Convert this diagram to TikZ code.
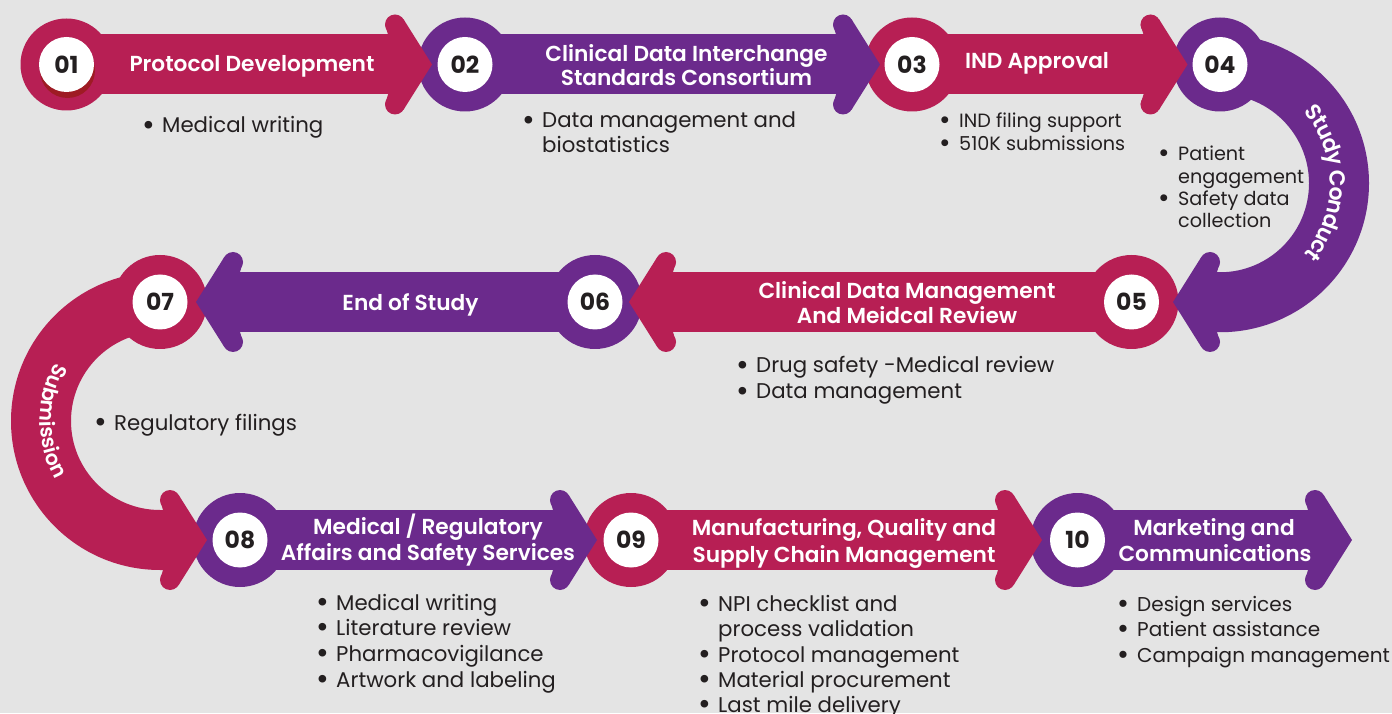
\documentclass[tikz,border=0pt]{standalone}
\usepackage{fontspec}
\setmainfont{Poppins}[BoldFont={Poppins SemiBold}]
\newfontfamily\numfont{Poppins Bold}
\usetikzlibrary{decorations.text}
\definecolor{bg}{HTML}{E4E4E4}
\definecolor{mag}{HTML}{B71F54}
\definecolor{pur}{HTML}{6B2A8C}
\definecolor{shd}{HTML}{9E1B24}
\definecolor{ink}{HTML}{231F20}
\newcommand\ahead[4]{%
  \begin{scope}[shift={(#1,#2)},xscale=#4]
    \fill[#3] (-44,30) -- (-47,40) -- (-28.5,45.3) -- (0,0) -- (-28.5,-45.3) -- (-47,-40) -- (-44,-30) -- cycle;
    \fill[#3] (-37,40) circle[radius=10] (-37,-40) circle[radius=10];
  \end{scope}}
\newcommand\bul{\makebox[16pt][l]{\hspace{-4pt}\raisebox{-0.1em}{\scalebox{1.45}{\textbullet}}}}
\tikzset{
  title/.style={text=white, font=\bfseries\fontsize{21.7}{25}\selectfont, anchor=base, inner sep=0pt},
  item/.style={text=ink, font=\fontsize{21.3}{25}\selectfont, anchor=base west, inner sep=0pt},
  smallitem/.style={item, font=\fontsize{19.2}{22}\selectfont},
  lastitem/.style={item, font=\fontsize{20}{25}\selectfont},
  num/.style={circle, fill=white, minimum size=55pt, inner sep=0pt, text=ink, font=\numfont\fontsize{23.5}{23.5}\selectfont},
}
\begin{document}
\begin{tikzpicture}[x=1pt,y=1pt]
\fill[bg] (0,0) rectangle (1392,713);
\useasboundingbox (0,0) rectangle (1392,713);
% rings
\fill[mag] (66.5,648.5) circle[radius=46];
\fill[pur] (465,648.5) circle[radius=47];
\fill[mag] (912,648.5) circle[radius=47];
\fill[pur] (1220,648.5) circle[radius=47];
\fill[mag] (1131.5,411) circle[radius=47];
\fill[pur] (595,411) circle[radius=47];
\fill[mag] (160,411) circle[radius=47];
\fill[pur] (240,173) circle[radius=47];
\fill[mag] (631,173) circle[radius=47];
\fill[pur] (1077.5,173) circle[radius=47];
% row 1 arrows
\fill[mag] (66.5,618.5) rectangle (392,678.5); \ahead{432}{648.5}{mag}{1}
\fill[pur] (465,618.5) rectangle (840,678.5); \ahead{880}{648.5}{pur}{1}
\fill[mag] (912,618.5) rectangle (1147.5,678.5); \ahead{1187.5}{648.5}{mag}{1}
% study conduct arc
\fill[pur] (1220,678.75) arc[start angle=90,end angle=-90,radius=149] -- (1214,380.75) -- (1214,440.75) -- (1220,440.75) arc[start angle=-90,end angle=90,radius=89] -- cycle;
\ahead{1173}{411}{pur}{-1}
% row 2 arrows
\fill[mag] (1131.5,381) rectangle (669,441); \ahead{629}{411}{mag}{-1}
\fill[pur] (595,381) rectangle (236,441); \ahead{196}{411}{pur}{-1}
% submission arc
\fill[mag] (160,441) arc[start angle=90,end angle=270,radius=149] -- (167,143) -- (167,203) -- (160,203) arc[start angle=270,end angle=90,radius=89] -- cycle;
\ahead{207}{173}{mag}{1}
% row 3 arrows
\fill[pur] (240,143) rectangle (557,203); \ahead{597}{173}{pur}{1}
\fill[mag] (631,143) rectangle (1002,203); \ahead{1042}{173}{mag}{1}
\fill[pur] (1077.5,143) rectangle (1312,203); \ahead{1352}{173}{pur}{1}
% number circles
\fill[shd] (67.5,642.5) circle[radius=27.5];
\node[num] (n01) at (66.5,648.5) {01};
\node[num] (n02) at (465,648.5) {02};
\node[num] (n03) at (912,648.5) {03};
\node[num] (n04) at (1220,648.5) {04};
\node[num] (n05) at (1131.5,411) {05};
\node[num] (n06) at (595,411) {06};
\node[num] (n07) at (160,411) {07};
\node[num] (n08) at (240,173) {08};
\node[num] (n09) at (631,173) {09};
\node[num] (n10) at (1077.5,173) {10};
% titles
\node[title] (t01) at (252,641) {Protocol Development};
\node[title] (t02a) at (686.5,651) {Clinical Data Interchange};
\node[title] (t02b) at (686.5,627) {Standards Consortium};
\node[title] (t03) at (1037,644) {IND Approval};
\node[title] (t05a) at (907,414) {Clinical Data Management};
\node[title] (t05b) at (907,389) {And Meidcal Review};
\node[title] (t06) at (410.5,402) {End of Study};
\node[title] (t08a) at (428,179) {Medical / Regulatory};
\node[title] (t08b) at (428,153) {Affairs and Safety Services};
\node[title] (t09a) at (844,178) {Manufacturing, Quality and};
\node[title] (t09b) at (844,151) {Supply Chain Management};
\node[title] (t10a) at (1214,178) {Marketing and};
\node[title] (t10b) at (1215,152) {Communications};
% arc labels
\path[decorate, decoration={text along path, text={|\bfseries\fontsize{22}{22}\selectfont|Study Conduct}, text align=center, text color=white, raise=-9pt}] (1220,529.75) ++(45:119) arc[start angle=45, end angle=-45, radius=119];
\path[decorate, decoration={text along path, text={|\bfseries\fontsize{20.5}{20.5}\selectfont|Submission}, text align=center, text color=white, raise=-1pt}] (160,292) ++(150:119) arc[start angle=150, end angle=210, radius=119];
% bullet lists
\node[item] (b01) at (146,580) {\bul Medical writing};
\node[item] (b02a) at (526,585) {\bul Data management and};
\node[item] (b02b) at (542,560) {biostatistics};
\node[smallitem] (b03a) at (943,585) {\bul IND filing support};
\node[smallitem] (b03b) at (943,562) {\bul 510K submissions};
\node[smallitem] (b04a) at (1162,552) {\bul Patient};
\node[smallitem] (b04b) at (1178,529.5) {engagement};
\node[smallitem] (b04c) at (1162,507) {\bul Safety data};
\node[smallitem] (b04d) at (1178,485) {collection};
\node[item] (b05a) at (740,340) {\bul Drug safety -Medical review};
\node[item] (b05b) at (740,314) {\bul Data management};
\node[item] (b07) at (98,283) {\bul Regulatory filings};
\node[item] (b08a) at (320,103) {\bul Medical writing};
\node[item] (b08b) at (320,78) {\bul Literature review};
\node[item] (b08c) at (320,52) {\bul Pharmacovigilance};
\node[item] (b08d) at (320,26) {\bul Artwork and labeling};
\node[item] (b09a) at (702,102) {\bul NPI checklist and};
\node[item] (b09b) at (718,77) {process validation};
\node[item] (b09c) at (702,51) {\bul Protocol management};
\node[item] (b09d) at (702,26) {\bul Material procurement};
\node[item] (b09e) at (702,1) {\bul Last mile delivery};
\node[lastitem] (b10a) at (1121,102) {\bul Design services};
\node[lastitem] (b10b) at (1121,77) {\bul Patient assistance};
\node[lastitem] (b10c) at (1121,51) {\bul Campaign management};
\end{tikzpicture}
\end{document}
